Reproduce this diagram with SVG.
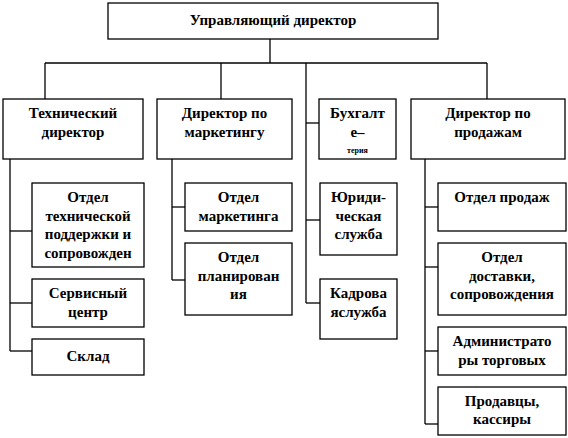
<svg xmlns="http://www.w3.org/2000/svg" width="568" height="438" viewBox="0 0 568 438">
<style>
rect{fill:#fff;stroke:#000;stroke-width:1.3}
.c line{stroke:#000;stroke-width:1.3;fill:none}
text{font-family:Liberation Serif, serif;font-weight:700;font-size:15px;text-anchor:middle;fill:#000}
.s{font-size:8px}
</style>
<rect width="568" height="438" style="fill:#fff;stroke:none"/>
<g class="c" id="connectors">
<line x1="270" y1="39" x2="270" y2="63"/>
<line x1="45" y1="63" x2="487" y2="63"/>
<line x1="45" y1="63" x2="45" y2="99"/>
<line x1="221" y1="63" x2="221" y2="99"/>
<line x1="487" y1="63" x2="487" y2="99"/>
<line x1="306" y1="63" x2="306" y2="303"/>
<line x1="306" y1="123" x2="319" y2="123"/>
<line x1="306" y1="220" x2="320" y2="220"/>
<line x1="306" y1="303" x2="320" y2="303"/>
<line x1="10" y1="159" x2="10" y2="351"/>
<line x1="10" y1="231" x2="32" y2="231"/>
<line x1="10" y1="303" x2="32" y2="303"/>
<line x1="10" y1="351" x2="32" y2="351"/>
<line x1="172" y1="159" x2="172" y2="280"/>
<line x1="172" y1="207" x2="185" y2="207"/>
<line x1="172" y1="280" x2="185" y2="280"/>
<line x1="425" y1="159" x2="425" y2="424"/>
<line x1="425" y1="207" x2="438" y2="207"/>
<line x1="425" y1="267" x2="438" y2="267"/>
<line x1="425" y1="351" x2="438" y2="351"/>
<line x1="425" y1="424" x2="438" y2="424"/>
</g>
<g id="ceo"><rect x="108" y="3" width="330" height="36"/><text x="273" y="25">Управляющий директор</text></g>
<g id="tech"><rect x="3" y="99" width="140" height="60"/><text x="73" y="118">Технический</text><text x="73" y="137">директор</text></g>
<g id="mkt"><rect x="157" y="99" width="135" height="60"/><text x="224.5" y="118">Директор по</text><text x="224.5" y="137">маркетингу</text></g>
<g id="acc"><rect x="319" y="99" width="77" height="60"/><text x="357.5" y="118">Бухгалт</text><text x="357.5" y="137">е–</text><text class="s" x="357.5" y="153">терия</text></g>
<g id="sales"><rect x="411" y="99" width="154" height="60"/><text x="488" y="118">Директор по</text><text x="488" y="137">продажам</text></g>
<g id="support"><rect x="32" y="183" width="112" height="84"/><text x="88" y="202">Отдел</text><text x="88" y="220.5">технической</text><text x="88" y="239">поддержки и</text><text x="88" y="257.5">сопровожден</text></g>
<g id="service"><rect x="32" y="279" width="112" height="48"/><text x="88" y="298">Сервисный</text><text x="88" y="316.5">центр</text></g>
<g id="store"><rect x="32" y="339" width="112" height="36"/><text x="88" y="361">Склад</text></g>
<g id="mktdep"><rect x="185" y="183" width="107" height="48"/><text x="238.5" y="202">Отдел</text><text x="238.5" y="220.5">маркетинга</text></g>
<g id="plan"><rect x="185" y="243" width="107" height="72"/><text x="238.5" y="262">Отдел</text><text x="238.5" y="280.5">планирован</text><text x="238.5" y="299">ия</text></g>
<g id="legal"><rect x="320" y="183" width="77" height="72"/><text x="358.5" y="202">Юриди-</text><text x="358.5" y="220.5">ческая</text><text x="358.5" y="239">служба</text></g>
<g id="hr"><rect x="320" y="279" width="77" height="60"/><text x="358.5" y="298">Кадрова</text><text x="358.5" y="316.5">яслужба</text></g>
<g id="salesdep"><rect x="438" y="183" width="128" height="48"/><text x="502" y="202">Отдел продаж</text></g>
<g id="delivery"><rect x="438" y="243" width="128" height="72"/><text x="502" y="262">Отдел</text><text x="502" y="280.5">доставки,</text><text x="502" y="299">сопровождения</text></g>
<g id="admin"><rect x="438" y="327" width="128" height="48"/><text x="502" y="346">Администрато</text><text x="502" y="364.5">ры торговых</text></g>
<g id="sellers"><rect x="438" y="387" width="128" height="48"/><text x="502" y="405.5">Продавцы,</text><text x="502" y="424">кассиры</text></g>
</svg>
